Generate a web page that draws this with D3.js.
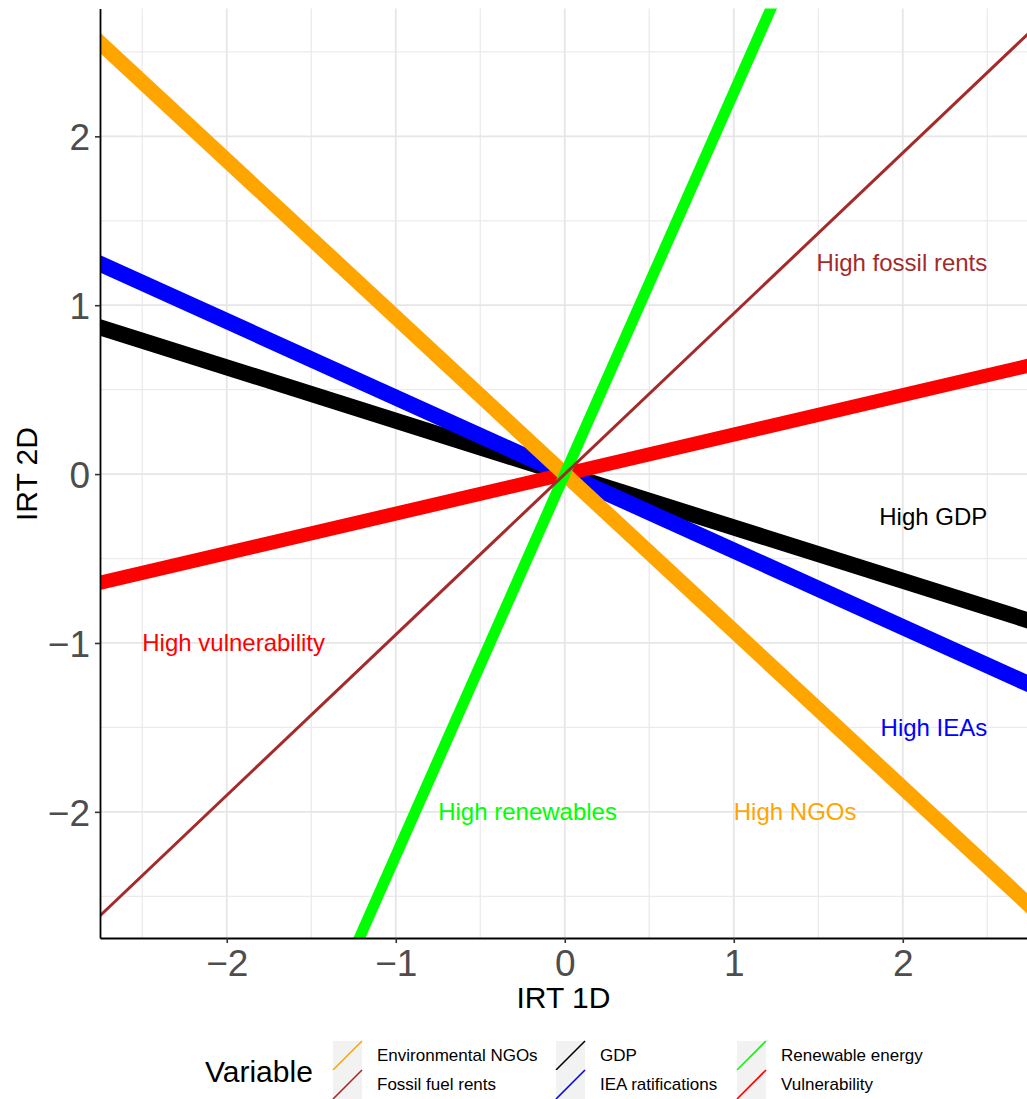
<!DOCTYPE html>
<html>
<head>
<meta charset="utf-8">
<script src="https://cdn.jsdelivr.net/npm/d3@7"></script>
<style>
  html, body { margin: 0; padding: 0; background: #ffffff; }
  svg { display: block; font-family: "Liberation Sans", Arial, sans-serif; }
</style>
</head>
<body>
<svg id="chart" width="1027" height="1099"></svg>
<script>
// Variables and the slope of each direction line (lines pass through the origin)
const variables = ["Environmental NGOs", "Fossil fuel rents", "GDP", "IEA ratifications", "Renewable energy", "Vulnerability"];
const slopes = [-0.929, 0.951, -0.316, -0.453, 2.26, 0.234];

// Direction labels placed inside the panel
const labelTexts = ["High fossil rents", "High GDP", "High vulnerability", "High IEAs", "High renewables", "High NGOs"];
const labelVariables = ["Fossil fuel rents", "GDP", "Vulnerability", "IEA ratifications", "Renewable energy", "Environmental NGOs"];
const labelX = [2.5, 2.5, -2.5, 2.5, -0.22, 1.0];
const labelY = [1.25, -0.25, -1.0, -1.5, -2.0, -2.0];

// Axis ticks
const xTicks = [-2, -1, 0, 1, 2];
const yTicks = [-2, -1, 0, 1, 2];
const xMinor = [-2.5, -1.5, -0.5, 0.5, 1.5, 2.5];
const yMinor = [-2.5, -1.5, -0.5, 0.5, 1.5, 2.5];

// Styling
const colorOf = {
  "Environmental NGOs": "#FFA500",
  "Fossil fuel rents": "#A52A2A",
  "GDP": "#000000",
  "IEA ratifications": "#0000FF",
  "Renewable energy": "#00FF00",
  "Vulnerability": "#FF0000"
};
const widthOf = {
  "Environmental NGOs": 15,
  "Fossil fuel rents": 3,
  "GDP": 16,
  "IEA ratifications": 16,
  "Renewable energy": 11,
  "Vulnerability": 14
};
const labelAnchor = ["end", "end", "start", "end", "middle", "start"];
const drawOrder = ["GDP", "IEA ratifications", "Vulnerability", "Environmental NGOs", "Renewable energy", "Fossil fuel rents"];

const svg = d3.select("#chart");
const panel = { left: 100, right: 1027, top: 8.5, bottom: 938 };

const x = d3.scaleLinear().domain([-2.75, 2.735]).range([panel.left, panel.right]);
const y = d3.scaleLinear().domain([-2.747, 2.757]).range([panel.bottom, panel.top]);

svg.append("defs").append("clipPath").attr("id", "panel-clip")
  .append("rect")
  .attr("x", panel.left).attr("y", panel.top)
  .attr("width", panel.right - panel.left).attr("height", panel.bottom - panel.top);

// Grid
const grid = svg.append("g");
grid.selectAll(".vminor").data(xMinor).join("line")
  .attr("x1", d => x(d)).attr("x2", d => x(d))
  .attr("y1", panel.top).attr("y2", panel.bottom)
  .attr("stroke", "#ebebeb").attr("stroke-width", 1.3);
grid.selectAll(".hminor").data(yMinor).join("line")
  .attr("y1", d => y(d)).attr("y2", d => y(d))
  .attr("x1", panel.left).attr("x2", panel.right)
  .attr("stroke", "#ebebeb").attr("stroke-width", 1.3);
grid.selectAll(".vmajor").data(xTicks).join("line")
  .attr("x1", d => x(d)).attr("x2", d => x(d))
  .attr("y1", panel.top).attr("y2", panel.bottom)
  .attr("stroke", "#e6e6e6").attr("stroke-width", 1.8);
grid.selectAll(".hmajor").data(yTicks).join("line")
  .attr("y1", d => y(d)).attr("y2", d => y(d))
  .attr("x1", panel.left).attr("x2", panel.right)
  .attr("stroke", "#e6e6e6").attr("stroke-width", 1.8);

// Direction lines through the origin
const xd = x.domain();
const lines = svg.append("g").attr("clip-path", "url(#panel-clip)");
drawOrder.forEach(v => {
  const s = slopes[variables.indexOf(v)];
  lines.append("line")
    .attr("x1", x(xd[0] - 0.5)).attr("y1", y(s * (xd[0] - 0.5)))
    .attr("x2", x(xd[1] + 0.5)).attr("y2", y(s * (xd[1] + 0.5)))
    .attr("stroke", colorOf[v])
    .attr("stroke-width", widthOf[v]);
});

// Direction labels
svg.append("g").selectAll("text").data(labelTexts).join("text")
  .attr("x", (d, i) => x(labelX[i]))
  .attr("y", (d, i) => y(labelY[i]))
  .attr("text-anchor", (d, i) => labelAnchor[i])
  .attr("dominant-baseline", "central")
  .attr("font-size", 24)
  .attr("fill", (d, i) => colorOf[labelVariables[i]])
  .text(d => d);

// Axes
const fmt = d => d < 0 ? "\u2212" + Math.abs(d) : String(d);
const xAxis = svg.append("g").attr("transform", `translate(0,${panel.bottom})`)
  .call(d3.axisBottom(x).tickValues(xTicks).tickFormat(fmt).tickSize(5).tickSizeOuter(0).tickPadding(6));
const yAxis = svg.append("g").attr("transform", `translate(${panel.left},0)`)
  .call(d3.axisLeft(y).tickValues(yTicks).tickFormat(fmt).tickSize(5).tickSizeOuter(0).tickPadding(5));
[xAxis, yAxis].forEach(a => {
  a.select(".domain").attr("stroke", "#000").attr("stroke-width", 1.8);
  a.selectAll(".tick line").attr("stroke", "#333").attr("stroke-width", 1.6);
  a.selectAll(".tick text").attr("fill", "#4d4d4d").attr("font-size", 37)
    .attr("font-family", "Liberation Sans, Arial, sans-serif");
});
xAxis.selectAll(".tick text").attr("dy", "0.72em");
yAxis.selectAll(".tick text").attr("dy", "0.36em");

// Axis titles
svg.append("text")
  .attr("x", (panel.left + panel.right) / 2).attr("y", 997)
  .attr("text-anchor", "middle").attr("dominant-baseline", "central")
  .attr("font-size", 30).attr("fill", "#000").text("IRT 1D");
svg.append("text")
  .attr("transform", `translate(26,${y(0)}) rotate(-90)`)
  .attr("text-anchor", "middle").attr("dominant-baseline", "central")
  .attr("font-size", 30).attr("fill", "#000").text("IRT 2D");

// Legend
const legend = svg.append("g");
legend.append("text").attr("x", 205).attr("y", 1071)
  .attr("dominant-baseline", "central").attr("font-size", 30).attr("fill", "#000")
  .text("Variable");
const colX = [333, 556, 737];
const rowY = [1041, 1070];
const keySize = 29;
variables.forEach((v, i) => {
  const c = Math.floor(i / 2), r = i % 2;
  const g = legend.append("g").attr("transform", `translate(${colX[c]},${rowY[r]})`);
  g.append("rect").attr("width", keySize).attr("height", keySize).attr("fill", "#f2f2f2");
  g.append("line").attr("x1", 0).attr("y1", keySize).attr("x2", keySize).attr("y2", 0)
    .attr("stroke", colorOf[v]).attr("stroke-width", 1.6);
  g.append("text").attr("x", keySize + 15).attr("y", keySize / 2)
    .attr("dominant-baseline", "central").attr("font-size", 17).attr("fill", "#000")
    .text(v);
});
</script>
</body>
</html>
